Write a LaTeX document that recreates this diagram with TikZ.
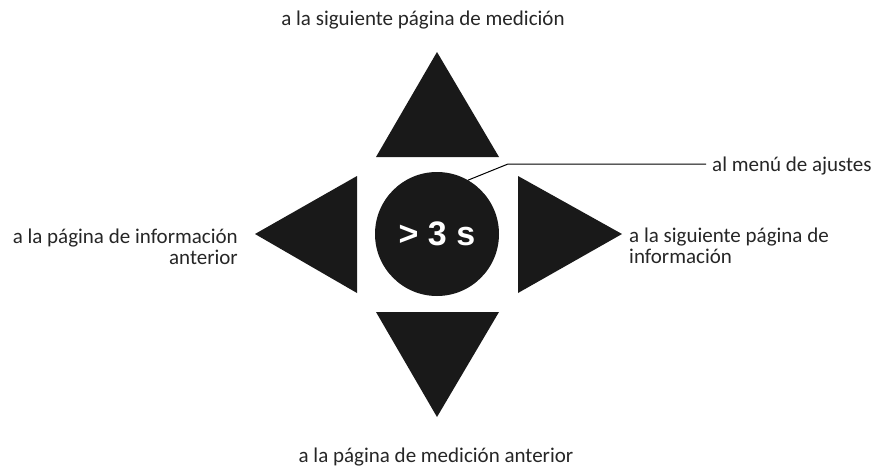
\documentclass[tikz,border=0pt]{standalone}
\usepackage{fontspec}
\setmainfont{Carlito}
\newfontfamily\holdfont{Liberation Sans}
\usetikzlibrary{positioning}

\tikzset{
  navarrow/.style={fill=black!90},
  navlabel/.style={font=\fontsize{21}{21.5}\selectfont, inner sep=0pt, text=black!85},
}

\begin{document}
\begin{tikzpicture}[x=1pt, y=-1pt]
  \useasboundingbox (0,0) rectangle (876,469);

  % Arrows
  \fill[navarrow] (437,52) -- (499,157) -- (376,157) -- cycle;
  \fill[navarrow] (437,417) -- (499,312) -- (376,312) -- cycle;
  \fill[navarrow] (255,234) -- (357,176) -- (357,293) -- cycle;
  \fill[navarrow] (622,234) -- (518,176) -- (518,293) -- cycle;

  % Hold button
  \node[circle, fill=black!90, minimum size=124pt, inner sep=0pt,
        text=white, font=\holdfont\bfseries\fontsize{34}{34}\selectfont] (hold) at (437,234) {\raisebox{-3pt}{> 3 s}};

  % Labels
  \node[navlabel] (next meas) at (423,20) {a la siguiente página de medición};
  \node[navlabel] (prev meas) at (436,457) {a la página de medición anterior};
  \node[navlabel, anchor=east, align=right] (prev info) at (238,247) {a la página de información\\anterior};
  \node[navlabel, anchor=west, align=left] (next info) at (629,246) {a la siguiente página de\\información};
  \node[navlabel, anchor=west] (settings) at (712,166) {al menú de ajustes};

  % Leader line
  \coordinate (bend) at (508,164);
  \draw[line width=1pt] (hold.60) -- (bend) -- (706,164);
\end{tikzpicture}
\end{document}
